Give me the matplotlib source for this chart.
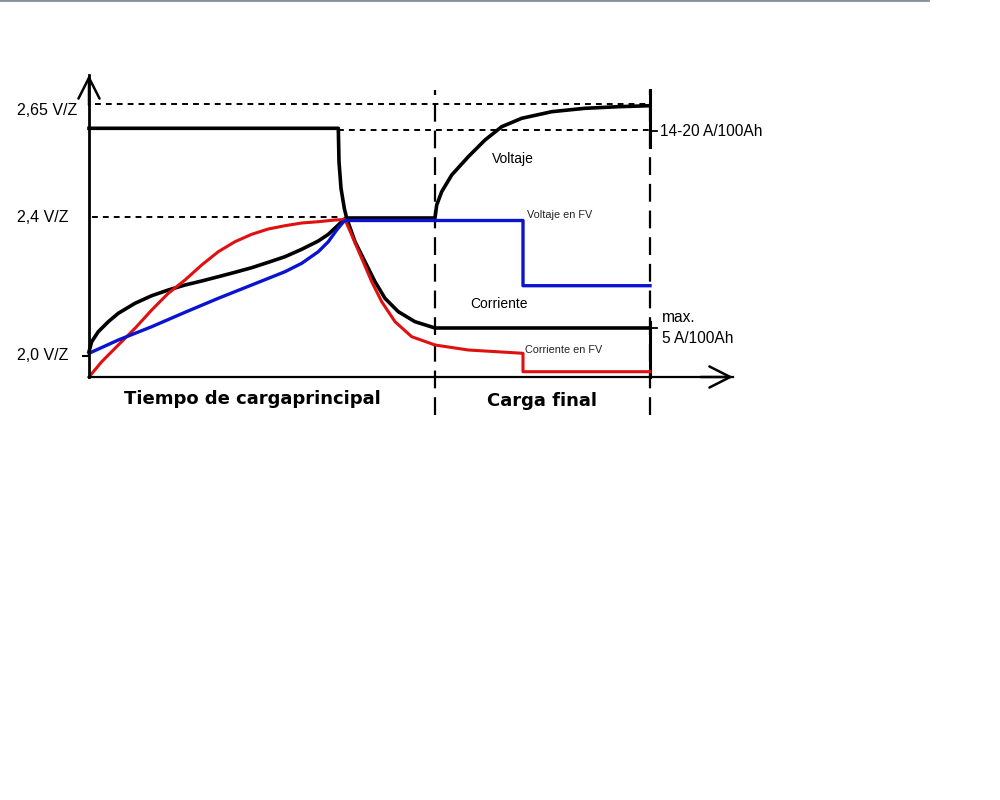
import matplotlib
matplotlib.use("Agg")
import matplotlib.pyplot as plt
from matplotlib.lines import Line2D

# Schematic units: x = charging time, y = relative level (origin at the axes corner)
T_AXIS_END = 644
Y_AXIS_END = 302
T_MAIN_END = 346      # end of main charge
T_FV_STEP = 434       # step of the PV (FV) curves
T_END = 561           # end of final charge

# Reference levels on the vertical axis
level_labels = ["2,65 V/Z", "2,4 V/Z", "2,0 V/Z"]
level_values = [272.7, 160, 21]
level_label_offsets = [-6, -1, 0]
level_I_high = 248    # 14-20 A/100Ah
level_I_low = 49      # max. 5 A/100Ah

# Voltage (black)
volt_t = [0, 2.7, 9.3, 19.3, 29.3, 46, 62.7, 79.3, 96, 112.7, 129.3, 146, 162.7, 179.3, 196,
          212.7, 229.3, 239.3, 249.3, 254.3, 257,
          346, 347.7, 352.7, 362.7, 379.3, 396, 412.7, 432.7, 462.7, 496, 529.3, 561]
volt_v = [25.3, 35.3, 45.3, 55.3, 63.7, 73.7, 81.3, 87, 92, 96, 100.3, 104.7, 109.3, 114.7, 120.3,
          127.7, 136, 142.7, 152, 157, 159,
          159, 172, 185.3, 202, 220.3, 237, 250.3, 258.7, 265.3, 268.7, 270.3, 271.3]

# Current (black)
curr_t = [0, 249.3, 250, 252, 255.3, 257.7, 266, 276, 286, 296, 309.3, 326, 346, 561]
curr_v = [248.7, 248.7, 215.3, 188.7, 168.7, 158.7, 135.3, 115.3, 95.3, 78.7, 65.3, 55.3, 49, 49]

# Voltage on PV (blue)
vfv_t = [0, 29.3, 62.7, 96, 129.3, 162.7, 196, 212.7, 229.3, 239.3, 247.7, 254.3, 257,
         434, 434, 561]
vfv_v = [23.7, 37, 50.3, 64.7, 78.7, 92, 105.3, 113.7, 125.3, 135.3, 147, 155, 156.5,
         156.5, 91.3, 91.3]

# Current on PV (red)
ifv_t = [0, 12.7, 29.3, 46, 62.7, 79.3, 96, 112.7, 129.3, 146, 162.7, 179.3, 196, 212.7,
         229.3, 246, 256,
         262.7, 272.7, 282.7, 292.7, 306, 322.7, 346, 379.3, 434, 434, 561]
ifv_v = [0, 15.3, 32, 48.7, 67, 83.7, 97, 112, 125.3, 135.3, 142.7, 148, 151.3, 154,
         155.3, 157, 157.5,
         142, 118.7, 95.3, 75.3, 55.3, 40.3, 32, 27, 23.7, 5.3, 5.3]

fig = plt.figure(figsize=(10, 8), dpi=100)
fig.patch.set_facecolor("white")

# thin grey rule along the top edge
fig.add_artist(Line2D([0, 0.928], [0.9995, 0.9995], transform=fig.transFigure,
                      color="#84929a", lw=2))

ax = fig.add_axes([89 / 1000, (800 - 377) / 800, T_AXIS_END / 1000, Y_AXIS_END / 800])
ax.set_xlim(0, T_AXIS_END)
ax.set_ylim(0, Y_AXIS_END)
ax.set_facecolor("none")
for s in ("top", "right"):
    ax.spines[s].set_visible(False)
ax.spines["left"].set_linewidth(2.0)
ax.spines["bottom"].set_linewidth(1.6)
ax.set_xticks([])
ax.set_yticks([])
ax.set_yticks([level_values[2]], minor=True)
ax.tick_params(axis="y", which="minor", length=5, width=1.5, direction="out")
ax.yaxis.set_minor_formatter(plt.NullFormatter())

# arrow heads on both axes
arrow = dict(arrowstyle="->,head_length=0.75,head_width=0.38", lw=1.8, color="black",
             mutation_scale=20, shrinkA=0, shrinkB=0)
ax.annotate("", xy=(0, 1), xytext=(0, 0.9), xycoords="axes fraction", arrowprops=arrow)
ax.annotate("", xy=(1, 0), xytext=(0.95, 0), xycoords="axes fraction", arrowprops=arrow)

dash_h = (0, (3, 2.6))
dash_v = (0, (8, 4))

# horizontal reference lines
ax.plot([6, T_END], [level_values[0]] * 2, color="black", lw=1.4, ls=dash_h, clip_on=False)
ax.plot([3, 251], [level_values[1]] * 2, color="black", lw=1.4, ls=dash_h, clip_on=False)
ax.plot([249, T_END], [level_I_high - 0.5] * 2, color="black", lw=1.4, ls=dash_h, clip_on=False)

# phase boundaries
for t in (T_MAIN_END, T_END):
    ax.plot([t, t], [-38, 287], color="black", lw=1.6, ls=dash_v, clip_on=False)
ax.plot([T_END, T_END], [230, 287], color="black", lw=2.2, clip_on=False)
ax.plot([T_END, T_END], [0, 55], color="black", lw=2.2, clip_on=False)
ax.plot([T_END, T_END + 7], [level_I_high - 2] * 2, color="black", lw=1.3, clip_on=False)
ax.plot([T_END, T_END + 7], [level_I_low] * 2, color="black", lw=1.3, clip_on=False)

# curves
ax.plot(curr_t, curr_v, color="black", lw=2.6, solid_joinstyle="round", clip_on=False)
ax.plot(volt_t, volt_v, color="black", lw=2.6, solid_joinstyle="round", clip_on=False)
ax.plot(ifv_t, ifv_v, color="#e01010", lw=2.2, solid_joinstyle="round", clip_on=False)
ax.plot(vfv_t, vfv_v, color="#0a14d0", lw=2.4, solid_joinstyle="round", clip_on=False)

# level labels
for lab, v, off in zip(level_labels, level_values, level_label_offsets):
    ax.text(-72, v + off, lab, ha="left", va="center", fontsize=11.5,
            family="Liberation Sans", clip_on=False)

txt = dict(family="Liberation Sans", clip_on=False)
ax.text(T_END + 10, level_I_high - 2, "14-20 A/100Ah", ha="left", va="center", fontsize=11.2, **txt)
ax.text(T_END + 12, 55, "max.", ha="left", va="baseline", fontsize=11.2, **txt)
ax.text(T_END + 12, 34, "5 A/100Ah", ha="left", va="baseline", fontsize=11.2, **txt)
ax.text(403, 214, "Voltaje", ha="left", va="baseline", fontsize=10, **txt)
ax.text(381, 69, "Corriente", ha="left", va="baseline", fontsize=10, **txt)
ax.text(438, 159, "Voltaje en FV", ha="left", va="baseline", fontsize=7.8, color="#222222", **txt)
ax.text(436, 24, "Corriente en FV", ha="left", va="baseline", fontsize=7.8, color="#222222", **txt)

ax.text(163, -27, "Tiempo de cargaprincipal", ha="center", va="baseline", fontsize=13,
        fontweight="bold", family="DejaVu Sans", clip_on=False)
ax.text(453, -29, "Carga final", ha="center", va="baseline", fontsize=13,
        fontweight="bold", family="DejaVu Sans", clip_on=False)

fig.savefig("out.png", dpi=100, facecolor="white")
